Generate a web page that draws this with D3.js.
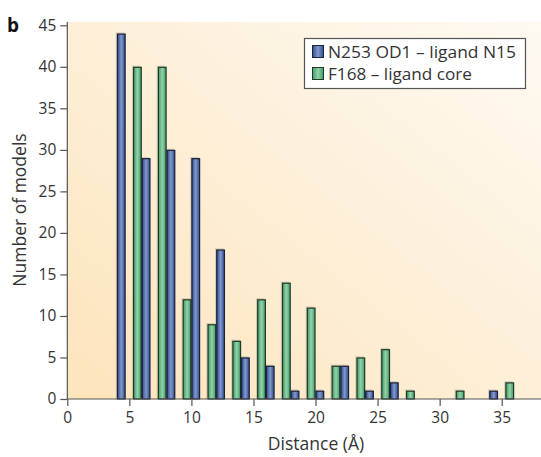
<!DOCTYPE html>
<html><head><meta charset="utf-8">
<script src="https://cdn.jsdelivr.net/npm/d3@7"></script>
<style>
body{margin:0;background:#fff;}
svg text{font-family:"Open Sans","Lato",sans-serif;fill:#333;}
</style></head>
<body><svg id="c" width="541" height="457"></svg>
<script>
const bins = [4,6,8,10,12,14,16,18,20,22,24,26,28,30,32,34,36];
const n253 = [44,29,30,29,18,5,4,1,1,4,1,2,0,0,0,1,0];
const f168 = [0,40,40,12,9,7,12,14,11,4,5,6,1,0,1,0,2];
const seriesNames = ["N253 OD1 \u2013 ligand N15","F168 \u2013 ligand core"];
const xTicks = [0,5,10,15,20,25,30,35];
const yTicks = [0,5,10,15,20,25,30,35,40,45];

const svg = d3.select("#c");
const defs = svg.append("defs");
const bg = defs.append("linearGradient").attr("id","bg").attr("x1","0").attr("y1","1").attr("x2","1").attr("y2","0");
bg.append("stop").attr("offset","0").attr("stop-color","#fde4bb");
bg.append("stop").attr("offset","0.55").attr("stop-color","#fdf0da");
bg.append("stop").attr("offset","1").attr("stop-color","#fefaf2");
function barGrad(id, edge, mid){
  const g = defs.append("linearGradient").attr("id",id).attr("x1","0").attr("x2","1").attr("y1","0").attr("y2","0");
  g.append("stop").attr("offset","0").attr("stop-color",edge);
  g.append("stop").attr("offset","0.5").attr("stop-color",mid);
  g.append("stop").attr("offset","1").attr("stop-color",edge);
}
barGrad("gb","#2f4c8c","#8397cc");
barGrad("gg","#3f9a66","#94d2aa");

const x = d3.scaleLinear().domain([0,35]).range([67.3,501.7]);
const y = d3.scaleLinear().domain([0,45]).range([399,25.3]);
const bw = x(0.7)-x(0);

svg.append("rect").attr("x",x(0)).attr("y",22).attr("width",541-x(0)).attr("height",y(0)-22).attr("fill","url(#bg)");

const data = bins.map((b,i)=>({b, blue:n253[i], green:f168[i]}));
const g = svg.append("g");
function drawBars(key, fill, stroke, dx){
  const sel = data.filter(d=>d[key]>0);
  g.selectAll(null).data(sel).enter().append("rect")
    .attr("x",d=>x(d.b)+dx-1.2).attr("y",d=>y(d[key])-1.2)
    .attr("width",bw).attr("height",d=>y(0)-y(d[key])+1.2)
    .attr("fill","rgba(0,0,0,0.15)");
  g.selectAll(null).data(sel).enter().append("rect")
    .attr("x",d=>x(d.b)+dx+0.5).attr("y",d=>y(d[key])+0.5)
    .attr("width",bw-1).attr("height",d=>y(0)-y(d[key])-0.5)
    .attr("fill",fill).attr("stroke",stroke).attr("stroke-width",1.2);
}
drawBars("green","url(#gg)","#1d3a28",-bw);
drawBars("blue","url(#gb)","#18213d",0);

const xa = svg.append("g").attr("transform",`translate(0,${y(0)})`)
  .call(d3.axisBottom(x).tickValues(xTicks).tickSize(7).tickPadding(6).tickSizeOuter(0));
xa.select(".domain").attr("d",`M${x(0)},0H541`);
const ya = svg.append("g").attr("transform",`translate(${x(0)},0)`)
  .call(d3.axisLeft(y).tickValues(yTicks).tickSize(7).tickPadding(4).tickSizeOuter(0));
ya.select(".domain").attr("d",`M0,${y(0)}V22`);
svg.selectAll(".domain").attr("stroke","#555").attr("stroke-width",1.2);
svg.selectAll(".tick line").attr("stroke","#555").attr("stroke-width",1.2);
svg.selectAll(".tick text").attr("font-size",15.5).style("font-size","15.5px").attr("fill","#333");

svg.append("text").attr("x",316).attr("y",450).attr("text-anchor","middle").style("font-size","17.5px").text("Distance (\u00c5)");
svg.append("text").attr("transform","translate(26,210) rotate(-90)").attr("text-anchor","middle").style("font-size","17.5px").text("Number of models");
svg.append("text").attr("x",7).attr("y",32).style("font-size","19px").attr("font-weight","bold").style("fill","#111").text("b");

const lg = svg.append("g");
lg.append("rect").attr("x",304.5).attr("y",38.5).attr("width",221).attr("height",50).attr("fill","#fff").attr("stroke","#555").attr("stroke-width",1.2);
const fills=["url(#gb)","url(#gg)"], strokes=["#18213d","#1d3a28"];
seriesNames.forEach((s,i)=>{
  lg.append("rect").attr("x",312.5).attr("y",45.5+i*22).attr("width",11).attr("height",12).attr("fill",fills[i]).attr("stroke",strokes[i]).attr("stroke-width",1);
  lg.append("text").attr("x",328).attr("y",57.5+i*22).style("font-size","16px").attr("textLength",i===0?188:144).attr("lengthAdjust","spacingAndGlyphs").text(s);
});
</script></body></html>
